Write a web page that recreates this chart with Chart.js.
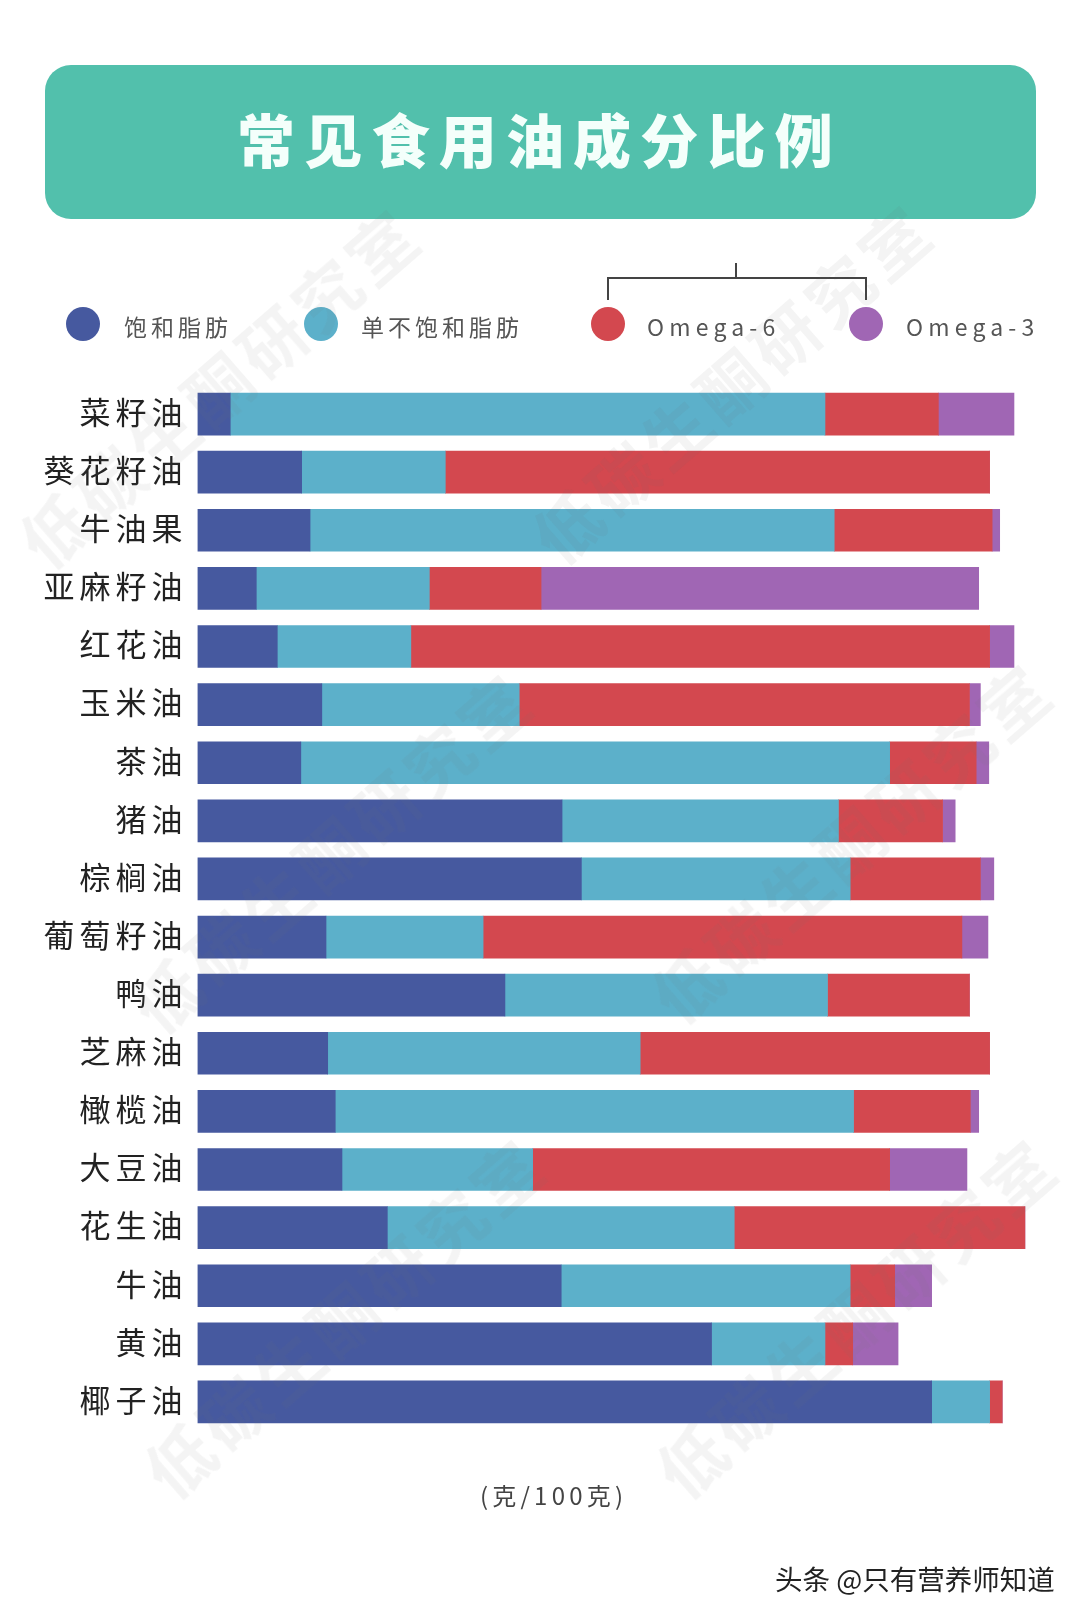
<!DOCTYPE html>
<html lang="zh">
<head>
<meta charset="utf-8">
<title>常见食用油成分比例</title>
<script src="https://cdn.jsdelivr.net/npm/chart.js@4/dist/chart.umd.min.js"></script>
<style>
    html, body { margin: 0; padding: 0; background: #fff; }
    body { position: relative; width: 1080px; height: 1619px; overflow: hidden; font-family: "Noto Sans CJK SC", sans-serif; }
    #myChart { position: absolute; left: 0; top: 0; }
    #banner { position: absolute; left: 45px; top: 65px; width: 991px; height: 154px; border-radius: 26px; background: #52c0ac; }
    #title { position: absolute; left: -1px; width: 100%; top: 35px; text-align: center; color: #f4fffb; font-size: 58px; line-height: 76px; font-weight: 900; letter-spacing: 9.2px; }
    .txt { position: absolute; white-space: nowrap; line-height: 1; }
    .dot { position: absolute; width: 34px; height: 34px; border-radius: 50%; top: 307px; }
    .leg { top: 315px; font-size: 23px; color: #555; letter-spacing: 4px; }
    .omega { letter-spacing: 5.2px; }
    .brk { position: absolute; background: #444; }
    .mark { position: absolute; white-space: nowrap; font-size: 66px; font-weight: 700; line-height: 1; letter-spacing: 6px; color: rgba(110, 110, 110, 0.075); transform: translate(-50%, -50%) rotate(-41deg); pointer-events: none; }
</style>
</head>
<body>
<canvas id="myChart" width="1080" height="1619"></canvas>
<div id="banner"><div id="title">常见食用油成分比例</div></div>
<div id="legend"></div>
<div class="brk" style="left:607px;top:277px;width:260px;height:2px"></div>
<div class="brk" style="left:607px;top:277px;width:2px;height:23px"></div>
<div class="brk" style="left:865px;top:277px;width:2px;height:23px"></div>
<div class="brk" style="left:735px;top:263px;width:1.5px;height:15px"></div>
<div class="txt" style="left:480px;top:1483px;font-size:24px;color:#444;letter-spacing:4.2px">(克/100克)</div>
<div class="txt" style="left:775px;top:1565px;font-size:27.5px;color:#222">头条 @只有营养师知道</div>
<div id="marks"></div>
<script>
// 克/100克
var categories = ["菜籽油", "葵花籽油", "牛油果", "亚麻籽油", "红花油", "玉米油", "茶油", "猪油", "棕榈油",
    "葡萄籽油", "鸭油", "芝麻油", "橄榄油", "大豆油", "花生油", "牛油", "黄油", "椰子油"];
var saturated = [3.9, 12.4, 13.4, 7.0, 9.5, 14.8, 12.3, 43.4, 45.7, 15.3, 36.6, 15.5, 16.4, 17.2, 22.6, 43.3, 61.2, 87.4];
var monounsaturated = [70.8, 17.1, 62.4, 20.6, 15.9, 23.5, 70.1, 32.9, 32.0, 18.7, 38.4, 37.2, 61.7, 22.7, 41.3, 34.4, 13.5, 6.9];
var omega6 = [13.5, 64.8, 18.8, 13.3, 68.9, 53.6, 10.3, 12.4, 15.5, 57.0, 16.9, 41.6, 13.9, 42.5, 34.6, 5.3, 3.3, 1.5];
var omega3 = [9.0, 0, 0.9, 52.1, 2.9, 1.3, 1.5, 1.5, 1.6, 3.1, 0, 0, 1.0, 9.2, 0, 4.4, 5.4, 0];

var seriesNames = ["饱和脂肪", "单不饱和脂肪", "Omega-6", "Omega-3"];
var seriesColors = ["#46599f", "#5cb0ca", "#d3484f", "#a066b4"];
var seriesValues = [saturated, monounsaturated, omega6, omega3];

// legend, spaced by hand like the original
var dotLeft = [66, 304, 591, 849];
var textLeft = [124, 361, 647, 906];
var legendHtml = "";
seriesNames.forEach(function(name, i){
    legendHtml += '<div class="dot" style="left:' + dotLeft[i] + 'px;background:' + seriesColors[i] + '"></div>';
    legendHtml += '<div class="txt leg' + (i > 1 ? ' omega' : '') + '" style="left:' + textLeft[i] + 'px">' + name + '</div>';
});
document.getElementById("legend").innerHTML = legendHtml;

// watermark
var markText = "低碳生酮研究室";
var markSpots = [[218, 385], [731, 381], [330, 850], [850, 840], [343, 1315], [855, 1315]];
var marksHtml = "";
markSpots.forEach(function(p){
    marksHtml += '<div class="mark" style="left:' + p[0] + 'px;top:' + p[1] + 'px">' + markText + '</div>';
});
document.getElementById("marks").innerHTML = marksHtml;

var spacedTicks = {
    id: "spacedTicks",
    beforeDraw: function(chart){
        chart.ctx.letterSpacing = "5px";
    }
};

var ctx = document.getElementById("myChart");

var myChart = new Chart(ctx, {
    type: "bar",
    data: {
        labels: categories,
        datasets: seriesNames.map(function(name, i){
            return {
                label: name,
                data: seriesValues[i],
                backgroundColor: seriesColors[i],
                borderWidth: 0,
                barThickness: 42
            };
        })
    },
    options: {
        indexAxis: "y",
        responsive: false,
        animation: false,
        layout: { padding: { top: 385, bottom: 188, left: 0, right: 42.5 } },
        plugins: { legend: { display: false }, title: { display: false }, tooltip: { enabled: false } },
        scales: {
            x: { stacked: true, min: 0, max: 100, display: false },
            y: {
                stacked: true,
                grid: { display: false },
                border: { display: false },
                afterFit: function(scale){ scale.width = 197.5; },
                ticks: {
                    color: "#222",
                    padding: 2,
                    labelOffset: -2,
                    autoSkip: false,
                    font: { family: '"Noto Sans CJK SC"', size: 31 }
                }
            }
        }
    },
    plugins: [spacedTicks]
});
</script>
</body>
</html>
